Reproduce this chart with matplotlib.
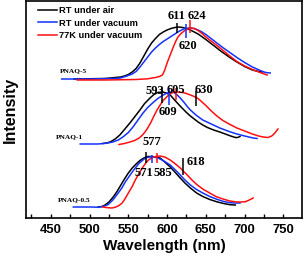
import matplotlib
matplotlib.use("Agg")
import matplotlib.pyplot as plt
from matplotlib.ticker import MultipleLocator

# spectra, offset vertically by sample (arbitrary intensity units)
# PNAQ-5
k5_nm = [480, 520, 540, 545, 550, 555, 560, 565, 570, 575, 580, 585, 590, 595, 600, 605, 610, 615, 620,
         625, 630, 640, 650, 660, 670, 680, 690, 700, 710, 718, 723]
k5_i  = [139, 139.5, 141, 142, 143.5, 146, 149.5, 155, 162, 169, 175, 179.5, 183.5, 186, 188, 189.5, 190.5, 191, 190.5,
         189.5, 188, 184, 178.5, 172.5, 166.5, 161, 156, 151.5, 148, 146.5, 146]
b5_nm = [464, 500, 530, 540, 548, 555, 560, 565, 570, 575, 580, 585, 590, 595, 600, 605, 610, 615, 620, 625,
         630, 635, 640, 645, 650, 660, 670, 680, 690, 700, 710, 720, 727, 733]
b5_i  = [139, 139, 139.5, 140, 142, 144, 146.5, 151, 156, 161, 166, 170, 173.5, 176.5, 179, 181.5, 184, 186.5, 188.5, 189.8,
         190, 189.5, 188, 186, 183.5, 177.5, 171.5, 166, 160.5, 155.5, 151, 147.5, 145.5, 145]
r5_nm = [484, 520, 560, 575, 585, 590, 594, 597, 600, 604, 608, 611, 614, 618, 622, 626, 630, 635, 640, 645,
         650, 660, 670, 680, 690, 700, 710, 720, 729]
r5_i  = [138, 138, 138.5, 139.2, 140.5, 141.5, 143, 148, 155, 163, 171, 176.5, 181, 184.5, 187, 189, 190, 189.5, 187.5, 184.5,
         181, 175, 169, 162.5, 156.5, 152, 148.5, 145.5, 143]

# PNAQ-1
k1_nm = [517, 522, 527, 533, 539, 545, 552, 558, 565, 571, 578, 583, 588, 594, 599, 604, 608, 612, 618, 625,
         630, 635, 640, 646, 652, 660, 668, 675, 682, 688, 691, 694]
k1_i  = [74.5, 75, 76.2, 79, 83, 88.5, 95, 101, 108, 114.5, 120, 123.5, 125.5, 126, 125, 123, 119.5, 116, 111, 105.5,
         102, 99, 96, 93, 90.5, 88, 86, 84, 82, 80.5, 80.5, 81.5]
b1_nm = [488, 511, 522, 530, 537, 543, 550, 556, 562, 569, 575, 582, 588, 595, 600, 605, 609, 613, 617, 622,
         626, 630, 638, 646, 657, 668, 680, 690, 700, 711, 716]
b1_i  = [74, 74, 74.8, 76, 78, 81, 85.5, 91, 97.5, 105, 110.5, 115.5, 119.5, 123, 125, 126, 125.5, 123, 120, 115.5,
         111.5, 108, 102.5, 98, 94, 90, 86.5, 84, 82, 80, 79.5]
r1_nm = [538, 545, 552, 558, 563, 567, 571, 575, 579, 583, 587, 591, 595, 600, 604, 608, 614, 620, 625, 630,
         635, 640, 645, 650, 657, 665, 672, 680, 690, 700, 710, 718, 724, 730, 735, 739, 743]
r1_i  = [73.5, 74.5, 76, 77.5, 79.5, 82, 85.5, 90, 95.5, 102, 108, 113, 117.5, 121.5, 124, 125.8, 126, 125.5, 124.5, 123,
         121.5, 119.5, 116, 112.5, 107, 101.5, 97.5, 94, 90, 87, 84, 82, 81, 80.5, 82, 85, 89]

# PNAQ-0.5
k05_nm = [511, 516, 520, 525, 530, 535, 540, 545, 550, 555, 560, 565, 570, 575, 580, 585, 591, 597, 604, 610,
          617, 623, 630, 638, 646, 655, 665, 673, 681, 688]
k05_i  = [11, 11.5, 13, 16, 20.5, 26, 32.5, 39, 45, 50, 54, 57.5, 60, 61.5, 61.5, 61, 60, 56, 51, 46,
          40, 35, 30, 25, 21.5, 18.5, 16, 14.5, 13.3, 13]
b05_nm = [479, 500, 511, 518, 524, 530, 537, 542, 546, 551, 555, 559, 563, 568, 572, 577, 581, 586, 591, 597,
          604, 610, 617, 623, 630, 638, 646, 655, 665, 673, 681, 688, 694]
b05_i  = [11, 11, 10.8, 11.5, 13.5, 18, 25, 30.5, 36, 41.5, 46, 50, 54, 57.5, 60, 61, 61, 60.5, 59, 56.5,
          53, 48.5, 43, 38, 33, 28.5, 25, 21.5, 18.5, 16.5, 15.3, 15, 15]
r05_nm = [517, 523, 529, 534, 538, 542, 546, 550, 555, 559, 564, 568, 572, 576, 581, 585, 591, 597, 604, 610,
          617, 622, 626, 632, 639, 647, 655, 663, 672, 681, 690, 696, 701, 706, 711]
r05_i  = [11, 10.3, 10, 11, 12.5, 15, 19.5, 25, 31.5, 38, 45, 50, 54.5, 58, 60.5, 61.5, 62, 61, 58, 54.5,
          50, 46, 43, 38, 33, 28.5, 25, 21.5, 19, 17, 16, 16, 16.3, 18, 20]

series_labels = ["RT under air", "RT under vacuum", "77K under vacuum"]
colors = ["black", "#1432ff", "#ff1010"]

# peak markers: (wavelength, low, high, colour index)
marks = [
    (612.6, 185, 195, 0), (624.2, 180, 194, 1), (629.8, 185, 198, 2),
    (593.6, 115, 130, 0), (602.6, 113, 130, 1), (611.0, 118, 130, 2),
    (637.1, 112, 127, 0),
    (573.0, 55, 66, 0), (580.0, 55, 63, 1), (587.5, 55, 65, 2),
    (620.7, 43, 60, 0),
]
# peak labels: (text, wavelength, intensity)
peak_txt = [
    ("611", 612.6, 202), ("624", 638.4, 202), ("620", 627.5, 172),
    ("593", 584.6, 127), ("605", 611.3, 128), ("630", 646.9, 128), ("609", 601.7, 106),
    ("577", 580.3, 76), ("571", 569.5, 45.5), ("585", 594.0, 45.5), ("618", 637.5, 56),
]
samples = [("PNAQ-5", 462, 147.3), ("PNAQ-1", 456.8, 81.3), ("PNAQ-0.5", 459.4, 18)]

fig = plt.figure(figsize=(3.05, 2.62), dpi=100)
ax = fig.add_axes([26/305, 44/262, 276/305, 217/262])

groups = [(k5_nm, k5_i, b5_nm, b5_i, r5_nm, r5_i),
          (k1_nm, k1_i, b1_nm, b1_i, r1_nm, r1_i),
          (k05_nm, k05_i, b05_nm, b05_i, r05_nm, r05_i)]
for gi, g in enumerate(groups):
    for s in range(3):
        ax.plot(g[2*s], g[2*s+1], color=colors[s], lw=1.1, solid_joinstyle="round",
                label=series_labels[s] if gi == 0 else None, zorder=2)

for x, lo, hi, c in marks:
    ax.vlines(x, lo, hi, color=colors[c], lw=1.1, zorder=3)

serif = dict(family="Liberation Serif", weight="bold")
for t, x, y in peak_txt:
    ax.text(x, y, t, ha="center", va="center", fontsize=9, zorder=4, **serif)
for t, x, y in samples:
    ax.text(x, y, t, ha="left", va="center", fontsize=5.3, **serif)

ax.set_xlim(418, 774)
ax.set_ylim(0, 217)
ax.xaxis.set_major_locator(MultipleLocator(50))
ax.xaxis.set_minor_locator(MultipleLocator(25))
ax.tick_params(axis="x", which="both", direction="in", length=3, width=1,
               pad=4.5, labelsize=9.4)
ax.set_yticks([])
for lab in ax.get_xticklabels():
    lab.set_family("Liberation Sans")
    lab.set_weight("bold")
for sp in ax.spines.values():
    sp.set_linewidth(1.2)

ax.set_xlabel("Wavelength (nm)", fontsize=11, family="Liberation Sans",
              weight="bold", labelpad=2)
ax.set_ylabel("Intensity", fontsize=11.5, family="Liberation Sans",
              weight="bold", labelpad=6)

leg = ax.legend(loc="upper left", bbox_to_anchor=(0.0435, 0.975), frameon=False,
                handlelength=2.0, handletextpad=0.25, labelspacing=0.35,
                borderaxespad=0, borderpad=0,
                prop=dict(family="Liberation Sans", weight="bold", size=6.7))

fig.savefig("out.png", dpi=100)
